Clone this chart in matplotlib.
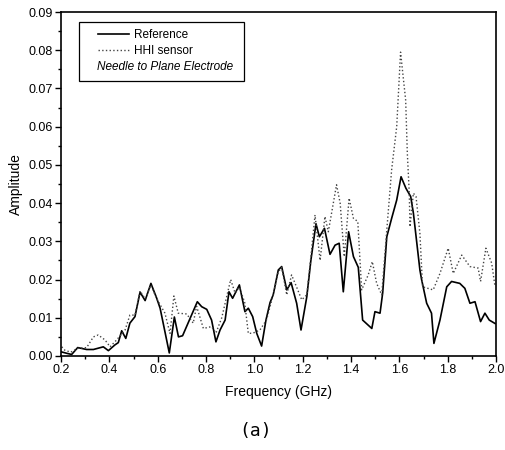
import numpy as np
import matplotlib.pyplot as plt
from matplotlib.patches import Rectangle
from matplotlib.ticker import MultipleLocator

plt.rcParams['font.family'] = ['Liberation Sans', 'DejaVu Sans']

# Reference (solid) trace
ref_freq = [0.200, 0.224, 0.244, 0.269, 0.306, 0.334, 0.375, 0.396, 0.423, 0.437,
            0.451, 0.468, 0.485, 0.506, 0.527, 0.548, 0.572, 0.596, 0.610, 0.648,
            0.669, 0.686, 0.703, 0.764, 0.782, 0.803, 0.823, 0.841, 0.858, 0.879,
            0.895, 0.910, 0.938, 0.961, 0.975, 0.993, 1.010, 1.030, 1.048, 1.065,
            1.078, 1.099, 1.113, 1.134, 1.152, 1.175, 1.193, 1.217, 1.234, 1.255,
            1.269, 1.290, 1.313, 1.334, 1.351, 1.368, 1.390, 1.410, 1.430, 1.448,
            1.486, 1.499, 1.520, 1.531, 1.548, 1.568, 1.589, 1.607, 1.627, 1.647,
            1.658, 1.685, 1.692, 1.713, 1.733, 1.743, 1.768, 1.796, 1.816, 1.850,
            1.871, 1.892, 1.913, 1.936, 1.954, 1.972, 1.996]
ref_amp = [0.0011, 0.0007, 0.0004, 0.0022, 0.0017, 0.0017, 0.0024, 0.0014, 0.0029, 0.0035,
           0.0066, 0.0046, 0.0086, 0.0103, 0.0167, 0.0145, 0.0190, 0.0151, 0.0125, 0.0008,
           0.0102, 0.0050, 0.0053, 0.0142, 0.0129, 0.0122, 0.0094, 0.0037, 0.0068, 0.0094,
           0.0168, 0.0151, 0.0186, 0.0116, 0.0125, 0.0103, 0.0059, 0.0026, 0.0094, 0.0140,
           0.0160, 0.0225, 0.0234, 0.0173, 0.0192, 0.0138, 0.0068, 0.0155, 0.0251, 0.0346,
           0.0312, 0.0334, 0.0266, 0.0290, 0.0295, 0.0168, 0.0325, 0.0260, 0.0232, 0.0094,
           0.0072, 0.0116, 0.0112, 0.0165, 0.0312, 0.0360, 0.0408, 0.0469, 0.0439, 0.0417,
           0.0374, 0.0225, 0.0200, 0.0138, 0.0112, 0.0033, 0.0094, 0.0181, 0.0195, 0.0190,
           0.0177, 0.0138, 0.0142, 0.0090, 0.0112, 0.0094, 0.0085]

# HHI sensor (dotted) trace
hhi_freq = [0.203, 0.216, 0.240, 0.270, 0.306, 0.334, 0.354, 0.382, 0.403, 0.430,
            0.465, 0.485, 0.506, 0.527, 0.548, 0.572, 0.596, 0.630, 0.651, 0.667,
            0.685, 0.720, 0.747, 0.761, 0.789, 0.823, 0.841, 0.865, 0.902, 0.920,
            0.938, 0.960, 0.975, 0.995, 1.023, 1.050, 1.078, 1.099, 1.113, 1.134,
            1.154, 1.175, 1.196, 1.217, 1.234, 1.251, 1.272, 1.292, 1.306, 1.340,
            1.355, 1.372, 1.392, 1.410, 1.428, 1.444, 1.471, 1.488, 1.506, 1.527,
            1.548, 1.568, 1.589, 1.605, 1.617, 1.626, 1.633, 1.641, 1.644, 1.658,
            1.669, 1.685, 1.696, 1.740, 1.768, 1.802, 1.823, 1.858, 1.892, 1.926,
            1.936, 1.958, 1.982, 1.996]
hhi_amp = [0.0024, 0.0015, 0.0010, 0.0020, 0.0022, 0.0050, 0.0055, 0.0042, 0.0024, 0.0042,
           0.0068, 0.0107, 0.0107, 0.0170, 0.0150, 0.0185, 0.0150, 0.0112, 0.0059, 0.0157,
           0.0112, 0.0110, 0.0086, 0.0130, 0.0072, 0.0077, 0.0060, 0.0100, 0.0200, 0.0165,
           0.0180, 0.0140, 0.0059, 0.0060, 0.0068, 0.0094, 0.0160, 0.0220, 0.0232, 0.0160,
           0.0212, 0.0180, 0.0147, 0.0160, 0.0260, 0.0369, 0.0250, 0.0365, 0.0325, 0.0448,
           0.0400, 0.0260, 0.0413, 0.0360, 0.0352, 0.0173, 0.0212, 0.0247, 0.0190, 0.0160,
           0.0330, 0.0487, 0.0600, 0.0795, 0.0723, 0.0670, 0.0530, 0.0426, 0.0338, 0.0426,
           0.0417, 0.0321, 0.0181, 0.0173, 0.0216, 0.0282, 0.0216, 0.0264, 0.0234, 0.0230,
           0.0195, 0.0282, 0.0243, 0.0181]

fig = plt.figure(figsize=(5.06, 4.5), dpi=100)
ax = fig.add_axes([0.1206, 0.2089, 0.8597, 0.7644])

l1, = ax.plot(ref_freq, ref_amp, color='black', linewidth=1.2, label='Reference')
l2, = ax.plot(hhi_freq, hhi_amp, color='#444444', linewidth=1.0, linestyle=':', label='HHI sensor')

ax.set_xlim(0.2, 2.0)
ax.set_ylim(0.0, 0.09)
ax.xaxis.set_major_locator(MultipleLocator(0.2))
ax.xaxis.set_minor_locator(MultipleLocator(0.1))
ax.yaxis.set_major_locator(MultipleLocator(0.01))
ax.yaxis.set_minor_locator(MultipleLocator(0.005))
ax.xaxis.set_major_formatter(plt.FormatStrFormatter('%.1f'))
ax.yaxis.set_major_formatter(plt.FormatStrFormatter('%.2f'))
ax.tick_params(which='major', direction='out', length=4, width=1, labelsize=9, pad=2)
ax.tick_params(which='minor', direction='out', length=2, width=1)
for s in ax.spines.values():
    s.set_linewidth(1.2)

ax.set_xlabel('Frequency (GHz)', fontsize=10, labelpad=6)
ax.set_ylabel('Amplitude', fontsize=10, labelpad=4)

leg = ax.legend(handles=[l1, l2], loc='upper left', bbox_to_anchor=(0.075, 0.965),
                frameon=False, fontsize=8.5, handlelength=2.6, handletextpad=0.4,
                borderaxespad=0, labelspacing=0.35)
ax.text(0.083, 0.84, 'Needle to Plane Electrode', transform=ax.transAxes,
        fontsize=8.5, style='italic', va='center')
ax.add_patch(Rectangle((0.041, 0.799), 0.38, 0.172, transform=ax.transAxes,
                       fill=False, edgecolor='black', linewidth=0.9))

fig.text(0.506, 0.03, '(a)', ha='center', fontsize=13, family='DejaVu Sans Mono')

fig.savefig('out.png', dpi=100)
